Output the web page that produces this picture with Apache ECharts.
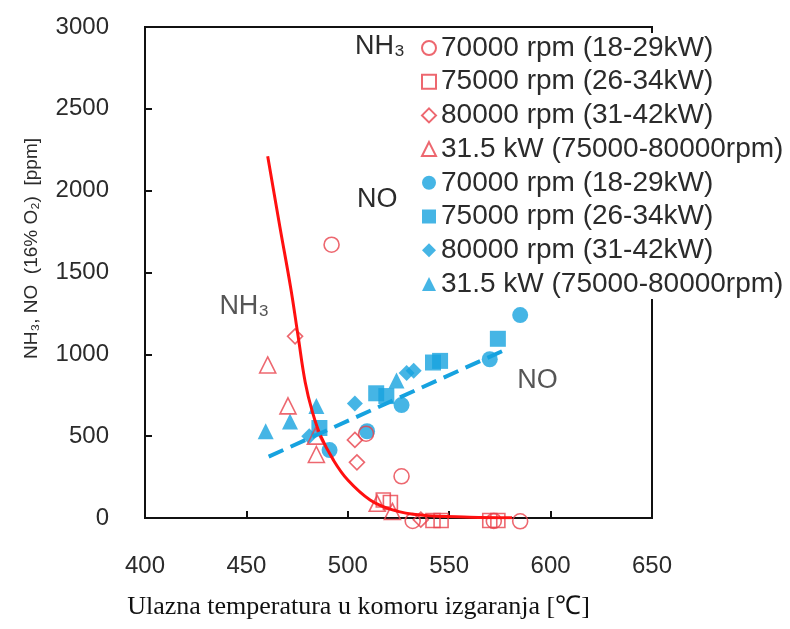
<!DOCTYPE html>
<html>
<head>
<meta charset="utf-8">
<script src="https://cdn.jsdelivr.net/npm/echarts@6.0.0/dist/echarts.min.js"></script>
<style>
  html, body { margin: 0; padding: 0; background: #fff; }
  #chart { width: 790px; height: 629px; }
</style>
</head>
<body>
<div id="chart"></div>
<script>
// axis ticks
var xTicks = [400, 450, 500, 550, 600, 650];
var yTicks = [0, 500, 1000, 1500, 2000, 2500, 3000];

// legend labels (same four conditions for both gases)
var conditions = [
  '70000 rpm (18-29kW)',
  '75000 rpm (26-34kW)',
  '80000 rpm (31-42kW)',
  '31.5 kW (75000-80000rpm)'
];

// NH3 measurements [temperature, ppm]
var nh3Circle = [[492, 1670], [509, 515], [526.5, 255], [532, -18], [572, -18], [585, -20]];
var nh3Square = [[517.5, 110], [521, 95], [542, -15], [546, -15], [570, -15], [574, -15]];
var nh3Diamond = [[474, 1110], [503.5, 477], [504.5, 340], [536, -10]];
var nh3Triangle = [[460.5, 935], [470.5, 685], [484.5, 388], [484, 500], [514.5, 90], [522, 40]];

// NO measurements [temperature, ppm]
var noCircle = [[491, 415], [509.5, 530], [526.5, 690], [570, 970], [585, 1240]];
var noSquare = [[486, 550], [514, 762], [519, 745], [542, 950], [545.5, 960], [574, 1095]];
var noDiamond = [[481, 500], [503.5, 700], [529, 886], [532.5, 900]];
var noTriangle = [[459.5, 530], [471.5, 590], [484.5, 685], [524, 840]];

// fitted curves
var nh3Fit = [[460.5, 2210], [466.5, 1780], [472, 1395], [475.5, 1110], [479, 830], [482.5, 650],
  [486.5, 505], [493, 352], [500, 232], [511, 110], [522, 50], [536, 18], [560, 5], [581, 2]];
var noFit = [[461, 375], [578, 1030]];

// in-plot labels
var curveLabels = [
  { name: 'NH₃', value: [449, 1290] },
  { name: 'NO', value: [593.5, 838] }
];

var red = '#e8414b';
var blue = '#16a2df';
var textColor = '#2b2b2b';

var chart = echarts.init(document.getElementById('chart'));

function scatter(name, data, symbol, filled, size) {
  return {
    name: name,
    type: 'scatter',
    data: data,
    symbol: symbol,
    symbolSize: size || 15,
    clip: false,
    z: filled ? 3 : 4,
    itemStyle: filled
      ? { color: blue }
      : { color: 'rgba(255,255,255,0)', borderColor: red, borderWidth: 1.6 }
  };
}

var series = [
  scatter('NH₃|' + conditions[0], nh3Circle, 'circle', false, 15),
  scatter('NH₃|' + conditions[1], nh3Square, 'rect', false, 14),
  scatter('NH₃|' + conditions[2], nh3Diamond, 'diamond', false, 15),
  scatter('NH₃|' + conditions[3], nh3Triangle, 'triangle', false, 16),
  scatter('NO|' + conditions[0], noCircle, 'circle', true, 16),
  scatter('NO|' + conditions[1], noSquare, 'rect', true, 16),
  scatter('NO|' + conditions[2], noDiamond, 'diamond', true, 16),
  scatter('NO|' + conditions[3], noTriangle, 'triangle', true, 16),
  {
    name: 'nh3Fit',
    type: 'line',
    data: nh3Fit,
    smooth: 0.4,
    symbol: 'none',
    z: 5,
    lineStyle: { color: '#ff1010', width: 3 }
  },
  {
    name: 'noFit',
    type: 'line',
    data: noFit,
    symbol: 'none',
    z: 5,
    lineStyle: { color: blue, width: 4, type: [16, 8] }
  },
  {
    name: 'labels',
    type: 'scatter',
    data: curveLabels,
    symbolSize: 0,
    silent: true,
    label: {
      show: true,
      formatter: '{b}',
      position: 'inside',
      color: textColor,
      fontSize: 27,
      fontFamily: 'Liberation Sans, Arial, sans-serif'
    }
  }
];

var option = {
  backgroundColor: '#fff',
  animation: false,
  textStyle: { fontFamily: 'Liberation Sans, Arial, sans-serif' },
  grid: {
    left: 145,
    right: 138,
    top: 27,
    bottom: 111,
    show: true,
    borderColor: '#111',
    borderWidth: 2
  },
  legend: {
    data: series.slice(0, 8).map(function (s) { return s.name; }),
    orient: 'vertical',
    left: 421,
    top: 33,
    padding: [0, 6, 0, 0],
    itemWidth: 14,
    itemHeight: 14,
    itemGap: 3.7,
    backgroundColor: '#fff',
    formatter: function (name) { return name.split('|')[1]; },
    textStyle: { fontSize: 28, lineHeight: 30, color: textColor }
  },
  graphic: [
    { type: 'text', left: 355, top: 33, style: { text: 'NH₃', fill: textColor, font: '27px Liberation Sans' } },
    { type: 'text', left: 357, top: 186, style: { text: 'NO', fill: textColor, font: '27px Liberation Sans' } }
  ],
  xAxis: {
    type: 'value',
    min: xTicks[0],
    max: xTicks[xTicks.length - 1],
    interval: 50,
    name: 'Ulazna temperatura u komoru izgaranja [℃]',
    nameLocation: 'middle',
    nameGap: 76,
    nameTextStyle: {
      fontFamily: 'Liberation Serif, Times New Roman, serif',
      fontSize: 26,
      color: '#111',
      padding: [0, 80, 0, 0]
    },
    axisLine: { lineStyle: { color: '#111', width: 2 } },
    axisTick: { inside: true, length: 7, lineStyle: { color: '#111', width: 2 } },
    axisLabel: { fontSize: 24, color: textColor, margin: 36, formatter: '{value}' },
    splitLine: { show: false }
  },
  yAxis: {
    type: 'value',
    min: yTicks[0],
    max: yTicks[yTicks.length - 1],
    interval: 500,
    name: 'NH₃, NO  (16% O₂)  [ppm]',
    nameLocation: 'middle',
    nameGap: 104,
    nameTextStyle: {
      fontSize: 19,
      color: textColor,
      padding: [0, 0, 0, 48]
    },
    axisLine: { lineStyle: { color: '#111', width: 2 } },
    axisTick: { inside: true, length: 7, lineStyle: { color: '#111', width: 2 } },
    axisLabel: {
      fontSize: 24,
      color: textColor,
      margin: 36,
      formatter: function (v) { return String(v); }
    },
    splitLine: { show: false }
  },
  series: series
};

chart.setOption(option);
</script>
</body>
</html>
